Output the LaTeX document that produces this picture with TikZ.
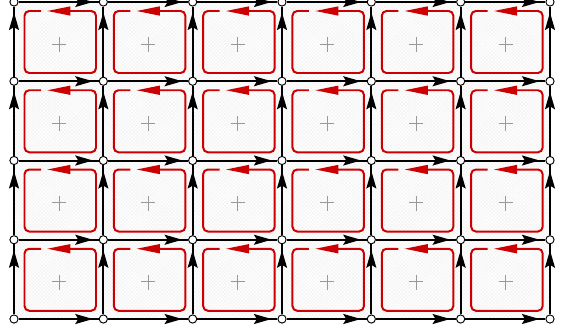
\documentclass[tikz,border=0pt]{standalone}
\usetikzlibrary{arrows.meta, decorations.markings, patterns}
\begin{document}
\begin{tikzpicture}[x=0.03cm, y=-0.03cm,
  vert/.style={circle, draw=black, fill=white, line width=0.8pt, inner sep=0pt, minimum size=7pt},
  edge/.style={black, line width=1.7pt, postaction={decorate}, decoration={markings, mark=at position -5pt with {\arrow{Stealth[length=15pt, width=8.5pt, inset=2.5pt]}}}},
  cell/.style={pattern=crosshatch, pattern color=black!5},
  loopline/.style={draw=red!80!black, line width=1.7pt, rounded corners=4pt, -{Triangle[length=20pt, width=7.5pt]}},
  cross/.style={gray!80, line width=0.6pt}]
\useasboundingbox (0,0) rectangle (563,329);
% cells: hatching, plus mark and loop
\foreach \i in {0,...,5}
  \foreach \j in {0,...,3} {
    \pgfmathsetmacro\X{14+\i*89.33}
    \pgfmathsetmacro\Y{2+\j*79.25}
    \fill[cell] (\X,\Y) rectangle ({\X+89.33},{\Y+79.25});
    \draw[cross] ({\X+38},{\Y+42}) -- ({\X+52},{\Y+42}) ({\X+45},{\Y+35}) -- ({\X+45},{\Y+50});
    \draw[loopline] ({\X+27},{\Y+9}) -| ({\X+10.5},{\Y+71}) -| ({\X+82},{\Y+9}) -- ({\X+33},{\Y+9});
  }
% vertices
\foreach \i in {0,...,6}
  \foreach \j in {0,...,4}
    \node[vert] (v-\i-\j) at ({14+\i*89.33},{2+\j*79.25}) {};
% horizontal edges, pointing right
\foreach \i in {0,...,5} {
  \pgfmathtruncatemacro\k{\i+1}
  \foreach \j in {0,...,4}
    \draw[edge] (v-\i-\j) -- (v-\k-\j);
}
% vertical edges, pointing up
\foreach \j in {0,...,3} {
  \pgfmathtruncatemacro\k{\j+1}
  \foreach \i in {0,...,6}
    \draw[edge] (v-\i-\k) -- (v-\i-\j);
}
\end{tikzpicture}
\end{document}
